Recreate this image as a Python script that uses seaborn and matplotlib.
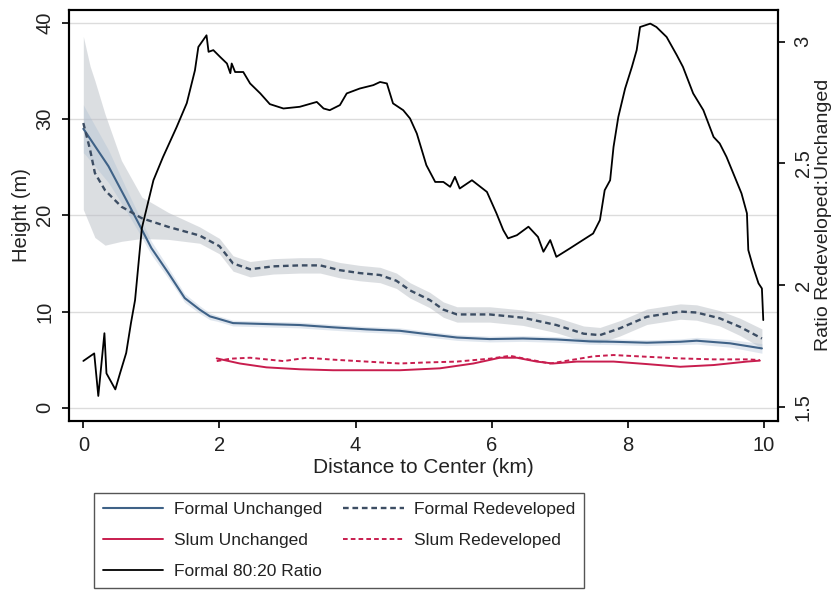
import matplotlib
matplotlib.use("Agg")
import matplotlib.pyplot as plt
from matplotlib import font_manager
import seaborn as sns

# ---- data -------------------------------------------------------------
# Formal Unchanged: smoothed height (m) by distance (km)
fu_km = [0.0, 0.03, 0.37, 0.61, 0.81, 1.0, 1.25, 1.49, 1.71, 1.86, 1.96, 2.2, 2.69,
         3.18, 3.67, 4.16, 4.65, 5.0, 5.49, 5.97, 6.46, 6.95, 7.44, 7.79, 8.28,
         8.77, 9.01, 9.5, 9.97]
fu_h = [29.0, 28.7, 25.1, 21.9, 19.2, 16.6, 14.0, 11.4, 10.2, 9.5, 9.3, 8.8, 8.7,
        8.6, 8.36, 8.15, 8.0, 7.7, 7.3, 7.14, 7.2, 7.1, 6.9, 6.86, 6.76,
        6.86, 6.97, 6.7, 6.17]
fu_halfwidth = [2.5, 2.4, 1.7, 1.2, 0.9, 0.7, 0.55, 0.45, 0.4, 0.35, 0.3, 0.3, 0.3,
                0.3, 0.3, 0.3, 0.3, 0.3, 0.3, 0.3, 0.3, 0.3, 0.3, 0.3, 0.3,
                0.3, 0.35, 0.4, 0.5]

# Formal Redeveloped: smoothed height with confidence band
fr_km = [0.0, 0.1, 0.17, 0.32, 0.56, 0.86, 1.25, 1.71, 2.0, 2.2, 2.45, 2.79, 3.18,
         3.48, 3.77, 4.06, 4.36, 4.6, 4.8, 5.09, 5.29, 5.49, 5.97, 6.46, 6.95,
         7.35, 7.59, 7.88, 8.28, 8.77, 9.01, 9.35, 9.65, 9.97]
fr_h = [29.6, 26.8, 24.4, 22.6, 20.9, 19.7, 18.8, 17.9, 16.8, 15.0, 14.4, 14.7, 14.8,
        14.8, 14.3, 14.0, 13.8, 13.2, 12.2, 11.2, 10.2, 9.7, 9.7, 9.36, 8.6,
        7.7, 7.55, 8.25, 9.46, 10.0, 9.9, 9.3, 8.4, 7.2]
fr_hi = [38.6, 35.5, 34.0, 30.5, 25.7, 21.9, 20.3, 18.8, 17.6, 15.8, 15.2, 15.5, 15.6,
         15.6, 15.1, 14.8, 14.6, 14.0, 13.0, 12.0, 11.0, 10.5, 10.5, 10.16, 9.4,
         8.5, 8.35, 9.05, 10.26, 10.8, 10.7, 10.1, 9.3, 8.2]
fr_lo = [20.6, 18.9, 17.7, 16.9, 17.3, 17.6, 17.5, 17.1, 16.0, 14.2, 13.6, 13.9, 14.0,
         14.0, 13.5, 13.2, 13.0, 12.4, 11.4, 10.4, 9.4, 8.9, 8.9, 8.56, 7.8,
         6.9, 6.75, 7.45, 8.66, 9.2, 9.1, 8.5, 7.5, 6.2]

# Slum Unchanged
su_km = [1.96, 2.3, 2.69, 3.18, 3.67, 4.16, 4.65, 5.24, 5.73, 6.12, 6.37, 6.66, 6.9,
         7.25, 7.79, 8.28, 8.77, 9.26, 9.75, 9.94]
su_h = [5.13, 4.6, 4.2, 4.0, 3.9, 3.9, 3.9, 4.1, 4.6, 5.2, 5.2, 4.8, 4.6,
        4.8, 4.8, 4.54, 4.26, 4.44, 4.8, 4.9]

# Slum Redeveloped
sr_km = [1.96, 2.16, 2.45, 2.94, 3.28, 3.67, 4.16, 4.65, 5.0, 5.49, 5.97, 6.27, 6.56,
         6.86, 7.2, 7.5, 7.79, 8.28, 8.77, 9.26, 9.75, 9.94]
sr_h = [4.85, 5.1, 5.2, 4.85, 5.2, 5.0, 4.8, 4.6, 4.7, 4.8, 5.1, 5.4, 5.0,
        4.6, 5.0, 5.35, 5.48, 5.3, 5.13, 5.03, 5.03, 4.96]

# Formal 80:20 ratio (redeveloped : unchanged), right axis
ratio_km = [0.00, 0.16, 0.22, 0.31, 0.34, 0.47, 0.54, 0.63, 0.70, 0.76, 0.86, 1.03,
            1.17, 1.37, 1.52, 1.64, 1.69, 1.81, 1.84, 1.91, 2.01, 2.11, 2.16, 2.18,
            2.23, 2.35, 2.45, 2.60, 2.74, 2.94, 3.18, 3.43, 3.53, 3.62, 3.77, 3.87,
            4.06, 4.26, 4.36, 4.46, 4.55, 4.70, 4.80, 4.90, 5.04, 5.17, 5.29, 5.39,
            5.46, 5.53, 5.71, 5.93, 6.07, 6.17, 6.24, 6.37, 6.54, 6.68, 6.76, 6.86,
            6.95, 7.15, 7.30, 7.49, 7.59, 7.66, 7.74, 7.79, 7.86, 7.96, 8.06, 8.13,
            8.18, 8.33, 8.42, 8.57, 8.72, 8.81, 8.96, 9.11, 9.26, 9.35, 9.45, 9.55,
            9.67, 9.75, 9.77, 9.84, 9.92, 9.97, 9.99]
ratio = [1.688, 1.719, 1.544, 1.802, 1.637, 1.571, 1.638, 1.721, 1.844, 1.938, 2.234,
         2.431, 2.526, 2.649, 2.748, 2.883, 2.979, 3.027, 2.959, 2.966, 2.938, 2.911,
         2.871, 2.911, 2.876, 2.876, 2.829, 2.788, 2.744, 2.726, 2.733, 2.753, 2.726,
         2.719, 2.740, 2.788, 2.808, 2.822, 2.835, 2.829, 2.747, 2.719, 2.685, 2.623,
         2.493, 2.424, 2.424, 2.404, 2.445, 2.397, 2.431, 2.383, 2.295, 2.226, 2.192,
         2.205, 2.240, 2.198, 2.137, 2.185, 2.116, 2.151, 2.178, 2.212, 2.267, 2.390,
         2.431, 2.568, 2.691, 2.808, 2.897, 2.966, 3.061, 3.075, 3.061, 3.020, 2.945,
         2.897, 2.788, 2.719, 2.609, 2.582, 2.527, 2.459, 2.377, 2.295, 2.144, 2.075,
         2.007, 1.986, 1.856]

x_ticks = [0, 2, 4, 6, 8, 10]
left_ticks = [0, 10, 20, 30, 40]
right_ticks = [1.5, 2, 2.5, 3]
right_tick_labels = ["1.5", "2", "2.5", "3"]

# ---- style ------------------------------------------------------------
sns.set_theme(style="white")
plt.rcParams["font.family"] = ["Liberation Sans", "DejaVu Sans"]

names = {f.name for f in font_manager.fontManager.ttflist}
if "Liberation Sans Narrow" in names:
    legend_font = {"family": ["Liberation Sans Narrow", "Liberation Sans"], "size": 14}
else:
    legend_font = {"family": ["Liberation Sans", "DejaVu Sans"], "size": 12.5}

BLUE = "#3f6287"
BLUE_DASH = "#3c4d63"
RED = "#c81d4e"

fig = plt.figure(figsize=(8.37, 5.94), dpi=100)
ax = fig.add_axes([0.0828, 0.2912, 0.847, 0.6928])
ax2 = ax.twinx()

# confidence bands
fu_lo = [h - w for h, w in zip(fu_h, fu_halfwidth)]
fu_hi = [h + w for h, w in zip(fu_h, fu_halfwidth)]
ax.fill_between(fr_km, fr_lo, fr_hi, color="#b9bec5", alpha=0.5, lw=0, zorder=1)
ax.fill_between(fu_km, fu_lo, fu_hi, color="#a9bdd2", alpha=0.35, lw=0, zorder=1)

sns.lineplot(x=fu_km, y=fu_h, ax=ax, color=BLUE, lw=1.5, label="Formal Unchanged",
             estimator=None, sort=False, zorder=3)
sns.lineplot(x=fr_km, y=fr_h, ax=ax, color=BLUE_DASH, lw=1.7, label="Formal Redeveloped",
             estimator=None, sort=False, zorder=3, linestyle=(0, (2.4, 1.6)))
sns.lineplot(x=su_km, y=su_h, ax=ax, color=RED, lw=1.4, label="Slum Unchanged",
             estimator=None, sort=False, zorder=3)
sns.lineplot(x=sr_km, y=sr_h, ax=ax, color=RED, lw=1.4, label="Slum Redeveloped",
             estimator=None, sort=False, zorder=3, linestyle=(0, (2.4, 1.6)))
sns.lineplot(x=ratio_km, y=ratio, ax=ax2, color="black", lw=1.3,
             label="Formal 80:20 Ratio", estimator=None, sort=False, zorder=4)

for a in (ax, ax2):
    if a.get_legend() is not None:
        a.get_legend().remove()

# axes ranges and ticks
ax.set_xlim(-0.206, 10.21)
ax.set_ylim(-1.38, 41.4)
ax2.set_ylim(1.441, 3.133)
ax.set_xticks(x_ticks)
ax.set_xticklabels([str(t) for t in x_ticks])
ax.set_yticks(left_ticks)
ax.set_yticklabels([str(t) for t in left_ticks], rotation=90, va="center")
ax2.set_yticks(right_ticks)
ax2.set_yticklabels(right_tick_labels, rotation=90, va="center")

ax.grid(axis="y", color="#dcdcdc", lw=1.0)
ax.grid(axis="x", visible=False)
ax2.grid(False)
ax.set_axisbelow(True)

for a in (ax, ax2):
    for s in a.spines.values():
        s.set_color("black")
        s.set_linewidth(1.5)
        s.set_visible(True)

ax.tick_params(axis="both", direction="out", length=5, width=1.2, color="black",
               labelsize=14.5, labelcolor="#222222", pad=6,
               bottom=True, left=True)
ax2.tick_params(axis="y", direction="out", length=5, width=1.2, color="black",
                labelsize=14.5, labelcolor="#222222", pad=6, right=True)

ax.set_xlabel("Distance to Center (km)", fontsize=15, color="#222222", labelpad=2)
ax.set_ylabel("Height (m)", fontsize=14.5, color="#222222", labelpad=3)
ax2.set_ylabel("Ratio Redeveloped:Unchanged", fontsize=14, color="#222222",
               rotation=90, labelpad=2)

# legend below the plot
h1, l1 = ax.get_legend_handles_labels()
h2, l2 = ax2.get_legend_handles_labels()
lookup = dict(zip(l1 + l2, h1 + h2))
order = ["Formal Unchanged", "Slum Unchanged", "Formal 80:20 Ratio",
         "Formal Redeveloped", "Slum Redeveloped"]
leg = fig.legend([lookup[k] for k in order], order, loc="upper left",
                 bbox_to_anchor=(94 / 837, 1 - 493 / 594, 490 / 837, 0),
                 mode="expand", ncol=2, prop=legend_font, frameon=True,
                 fancybox=False, edgecolor="#555555", framealpha=1,
                 handlelength=3.5, handletextpad=0.6, labelspacing=0.92,
                 borderpad=0.5, borderaxespad=0)
leg.get_frame().set_linewidth(1.0)
for t in leg.get_texts():
    t.set_color("#222222")

fig.savefig("out.png", dpi=100)
